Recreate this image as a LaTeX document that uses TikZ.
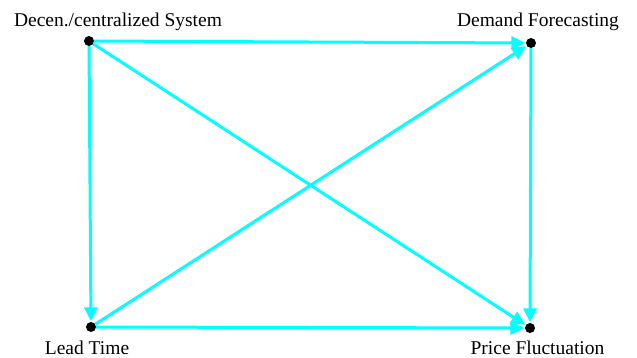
\documentclass[tikz,border=0pt]{standalone}
\usepackage{fontspec}
\setmainfont{Liberation Serif}
\usetikzlibrary{arrows.meta}
\definecolor{aqua}{RGB}{0,255,255}
\begin{document}
\begin{tikzpicture}[x=1pt,y=-1pt,
  dot/.style={circle,fill=black,inner sep=0pt,minimum size=10pt},
  lbl/.style={font=\fontsize{19.5}{22}\selectfont,inner sep=0pt,anchor=base},
  edge/.style={draw=aqua,line width=3pt,-{Triangle[length=14pt,width=13pt]},shorten >=0.5pt}]
\useasboundingbox (0,0) rectangle (637,357);
\node[dot] (a) at (89,41) {};
\node[dot] (b) at (531,43) {};
\node[dot] (c) at (91,327) {};
\node[dot] (d) at (530,328) {};
\node[lbl] (la) at (118,26) {Decen./centralized System};
\node[lbl] (lb) at (538,26) {Demand Forecasting};
\node[lbl] (lc) at (87,354) {Lead Time};
\node[lbl] (ld) at (537.5,354) {Price Fluctuation};
\draw[edge] (a) -- (b);
\draw[edge] (a) -- (c);
\draw[edge] (a) -- (d);
\draw[edge] (c) -- (b);
\draw[edge] (c) -- (d);
\draw[edge] (b) -- (d);
\end{tikzpicture}
\end{document}
